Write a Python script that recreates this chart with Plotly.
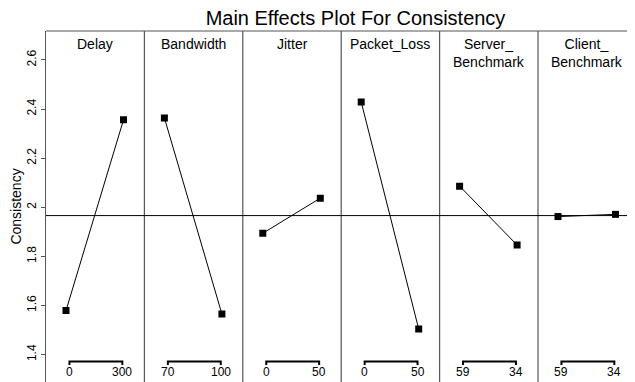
import plotly.graph_objects as go
from plotly.subplots import make_subplots

factors = ["Delay", "Bandwidth", "Jitter", "Packet_Loss", "Server_<br>Benchmark", "Client_<br>Benchmark"]
level_labels = [["0", "300"], ["70", "100"], ["0", "50"], ["0", "50"], ["59", "34"], ["59", "34"]]
means = [
    [1.579, 2.356],
    [2.364, 1.565],
    [1.894, 2.037],
    [2.429, 1.504],
    [2.086, 1.846],
    [1.962, 1.971],
]
grand_mean = 1.966
y_ticks = [1.4, 1.6, 1.8, 2.0, 2.2, 2.4, 2.6]
y_tick_text = ["1.4", "1.6", "1.8", "2", "2.2", "2.4", "2.6"]

# page body has an 8px default margin; compensate so the picture lines up
OFF = 8
VW, VH = 635, 382
W, H = VW - OFF, VH - OFF
ML, MT = 46 - OFF, 31 - OFF
n = len(factors)
panel_px = 98.4
plot_w = W - ML
plot_h = H - MT

fig = make_subplots(rows=1, cols=n, shared_yaxes=True, horizontal_spacing=0)
FONT = "Liberation Sans, Arial, Helvetica, sans-serif"
edge = "#555555"

unit_px = 57.5
lo = -20 / unit_px
for i in range(n):
    d0 = min(1.0, i * panel_px / plot_w)
    d1 = min(1.0, (i + 1) * panel_px / plot_w)
    width_px = (d1 - d0) * plot_w
    hi = lo + width_px / unit_px
    xa = "xaxis" if i == 0 else f"xaxis{i+1}"
    fig.layout[xa].update(domain=[d0, d1], range=[lo, hi], visible=False, fixedrange=True)
    fig.add_trace(go.Scatter(
        x=[0, 1], y=means[i], mode="lines+markers",
        line=dict(color="black", width=1),
        marker=dict(symbol="square", size=7, color="black"),
        showlegend=False, hoverinfo="skip"), row=1, col=i + 1)
    # level bracket
    fig.add_trace(go.Scatter(
        x=[0.06, 0.06, 0.98, 0.98], y=[1.357, 1.372, 1.372, 1.357], mode="lines",
        line=dict(color="black", width=2),
        showlegend=False, hoverinfo="skip"), row=1, col=i + 1)
    xr = "x" if i == 0 else f"x{i+1}"
    for xv, lab in zip([0.06, 0.98], level_labels[i]):
        fig.add_annotation(x=xv, y=1.329, xref=xr, yref="y", text=lab, showarrow=False,
                           font=dict(size=12, color="black", family=FONT),
                           xanchor="center", yanchor="middle")
    fig.add_annotation(x=0.5, y=(VH - 34) / plot_h, xref=f"{xr} domain", yref="paper",
                       text=factors[i], showarrow=False,
                       font=dict(size=14, color="black", family=FONT),
                       xanchor="center", yanchor="top", align="center")
    # panel borders
    if i > 0:
        fig.add_shape(type="line", xref="paper", yref="paper", x0=d0, x1=d0, y0=-0.1, y1=1,
                      line=dict(color=edge, width=1.2))

fig.update_yaxes(range=[1.288, 2.718], showgrid=False, zeroline=False, fixedrange=True)
fig.update_yaxes(tickvals=y_ticks, ticktext=y_tick_text, tickangle=-90,
                 ticks="outside", ticklen=4, tickcolor=edge,
                 tickfont=dict(size=12, color="black", family=FONT),
                 showline=True, linecolor=edge, linewidth=1.2,
                 title=dict(text="Consistency", font=dict(size=14, color="black", family=FONT), standoff=3),
                 row=1, col=1)
for i in range(1, n):
    fig.update_yaxes(showticklabels=False, ticks="", row=1, col=i + 1)

# top border
fig.add_shape(type="line", xref="paper", yref="paper", x0=0, x1=1, y0=1, y1=1,
              line=dict(color=edge, width=1.2))
# grand mean reference line
fig.add_shape(type="line", xref="paper", yref="y", x0=0, x1=1, y0=grand_mean, y1=grand_mean,
              line=dict(color="black", width=1))

fig.update_layout(
    width=W, height=H,
    margin=dict(l=ML, r=0, t=MT, b=0, pad=0),
    paper_bgcolor="white", plot_bgcolor="white",
    title=dict(text="Main Effects Plot For Consistency", x=(355.5 - OFF) / W, xanchor="center", xref="container",
               y=1 - (17.5 - OFF) / H, yanchor="middle", yref="container",
               font=dict(size=20, color="black", family=FONT)),
)
fig.write_html("out.html")
